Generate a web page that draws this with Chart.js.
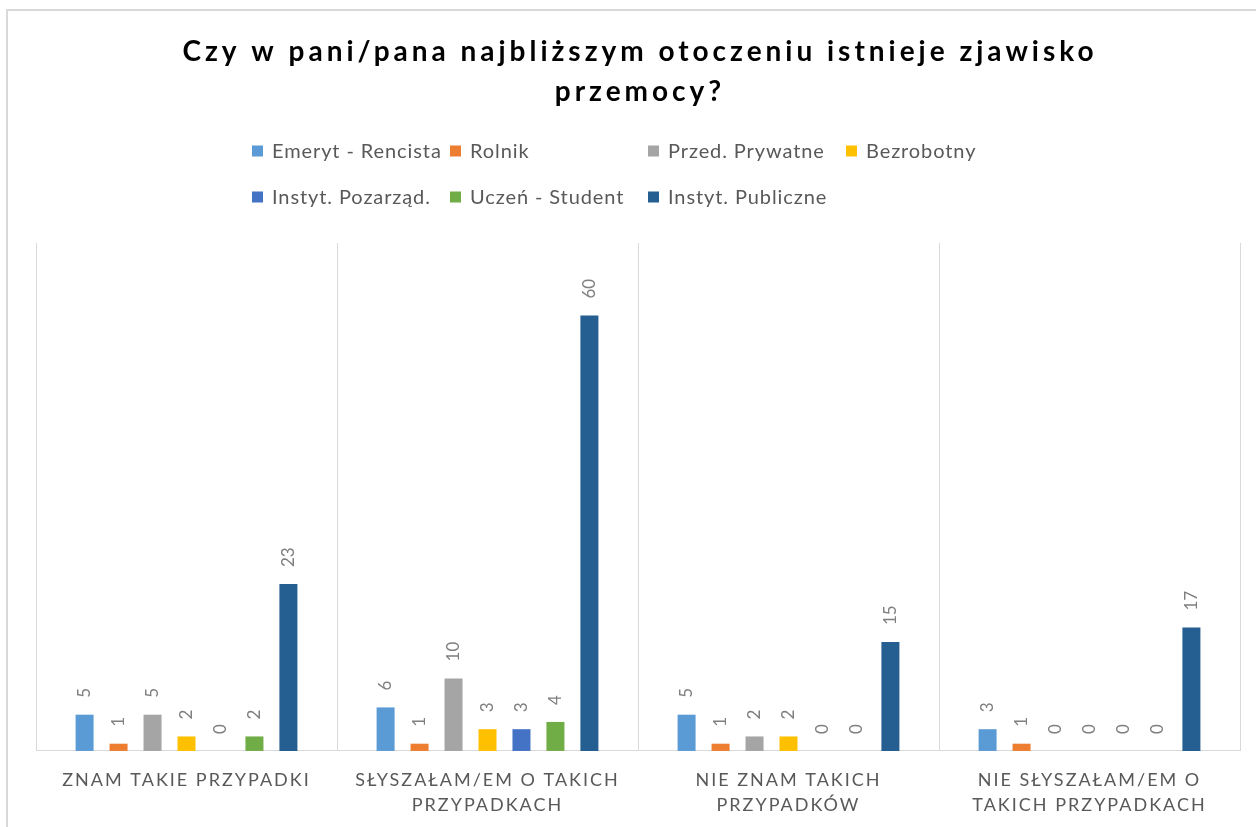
<!DOCTYPE html>
<html><head><meta charset="utf-8">
<script src="https://cdn.jsdelivr.net/npm/chart.js@4.4.1/dist/chart.umd.min.js"></script>
<style>
html,body{margin:0;padding:0;background:#fff;overflow:hidden;width:1256px;height:827px;}
#frame{position:absolute;left:6px;top:9px;width:1300px;height:900px;border-left:2px solid #d9d9d9;border-top:2px solid #d9d9d9;}
#wrap{position:absolute;left:0;top:0;width:1256px;height:827px;}
</style></head><body>
<div id="frame"></div>
<div id="wrap"><canvas id="c" width="1256" height="827"></canvas></div>
<script>
const titleLines = ['Czy w pani/pana najbliższym otoczeniu istnieje zjawisko', 'przemocy?'];
const categories = [
  ['ZNAM TAKIE PRZYPADKI'],
  ['SŁYSZAŁAM/EM O TAKICH', 'PRZYPADKACH'],
  ['NIE ZNAM TAKICH', 'PRZYPADKÓW'],
  ['NIE SŁYSZAŁAM/EM O', 'TAKICH PRZYPADKACH']
];
const seriesNames = ['Emeryt - Rencista', 'Rolnik', 'Przed. Prywatne', 'Bezrobotny', 'Instyt. Pozarząd.', 'Uczeń - Student', 'Instyt. Publiczne'];
const emerytRencista = [5, 6, 5, 3];
const rolnik = [1, 1, 1, 1];
const przedPrywatne = [5, 10, 2, 0];
const bezrobotny = [2, 3, 2, 0];
const instytPozarzad = [0, 3, 0, 0];
const uczenStudent = [2, 4, 0, 0];
const instytPubliczne = [23, 60, 15, 17];
const seriesValues = [emerytRencista, rolnik, przedPrywatne, bezrobotny, instytPozarzad, uczenStudent, instytPubliczne];
const seriesColors = ['#5B9BD5', '#ED7D31', '#A5A5A5', '#FFC000', '#4472C4', '#70AD47', '#255E91'];

const datasets = seriesNames.map((name, i) => ({
  label: name,
  data: seriesValues[i],
  backgroundColor: seriesColors[i],
  borderWidth: 0,
  categoryPercentage: 0.79,
  barPercentage: 0.53
}));

const decorPlugin = {
  id: 'decor',
  beforeDraw(chart) {
    chart.ctx.letterSpacing = '2px';
  },
  beforeDatasetsDraw(chart) {
    chart.ctx.letterSpacing = '0px';
  },
  afterDraw(chart) {
    const ctx = chart.ctx;
    const ca = chart.chartArea;
    const cx = (ca.left + ca.right) / 2;
    // title
    ctx.save();
    ctx.fillStyle = '#000000';
    ctx.font = 'bold 28px Lato';
    ctx.textAlign = 'center';
    ctx.textBaseline = 'middle';
    ctx.letterSpacing = '0px';
    const w0 = ctx.measureText(titleLines[0]).width;
    const sp = Math.max(0, (915 - w0) / titleLines[0].length);
    ctx.letterSpacing = sp.toFixed(2) + 'px';
    ctx.fillText(titleLines[0], cx + sp / 2, 52);
    ctx.fillText(titleLines[1], cx + sp / 2, 92);
    ctx.restore();
    // legend
    ctx.save();
    ctx.font = '20px Lato';
    ctx.textAlign = 'left';
    ctx.textBaseline = 'middle';
    ctx.letterSpacing = '0.9px';
    const colX = [252, 450, 648, 846];
    const rowY = [151, 197];
    seriesNames.forEach((name, i) => {
      const x = colX[i % 4];
      const y = rowY[Math.floor(i / 4)];
      ctx.fillStyle = seriesColors[i];
      ctx.fillRect(x, y - 5.5, 11, 11);
      ctx.fillStyle = '#595959';
      ctx.fillText(name, x + 20, y + 1);
    });
    ctx.restore();
    // data labels
    ctx.save();
    ctx.font = '17px Lato';
    ctx.fillStyle = '#7f7f7f';
    ctx.textAlign = 'left';
    ctx.textBaseline = 'middle';
    chart.data.datasets.forEach((ds, di) => {
      const meta = chart.getDatasetMeta(di);
      meta.data.forEach((el, j) => {
        ctx.save();
        ctx.translate(el.x, el.y - 17);
        ctx.rotate(-Math.PI / 2);
        ctx.fillText(String(ds.data[j]), 0, 0);
        ctx.restore();
      });
    });
    ctx.restore();
  }
};

new Chart(document.getElementById('c'), {
  type: 'bar',
  data: { labels: categories, datasets },
  plugins: [decorPlugin],
  options: {
    responsive: false,
    animation: false,
    layout: { padding: { top: 243, left: 36, right: 16, bottom: -8 } },
    plugins: { legend: { display: false }, title: { display: false }, tooltip: { enabled: false } },
    scales: {
      x: {
        grid: { display: true, offset: true, color: '#d9d9d9', lineWidth: 1, drawTicks: false },
        border: { display: true, color: '#d9d9d9', width: 1 },
        ticks: { color: '#595959', font: { family: 'Lato', size: 18, lineHeight: 1.39 }, padding: 17, maxRotation: 0, minRotation: 0, autoSkip: false }
      },
      y: { display: false, min: 0, max: 70 }
    }
  }
});
</script>
</body></html>
